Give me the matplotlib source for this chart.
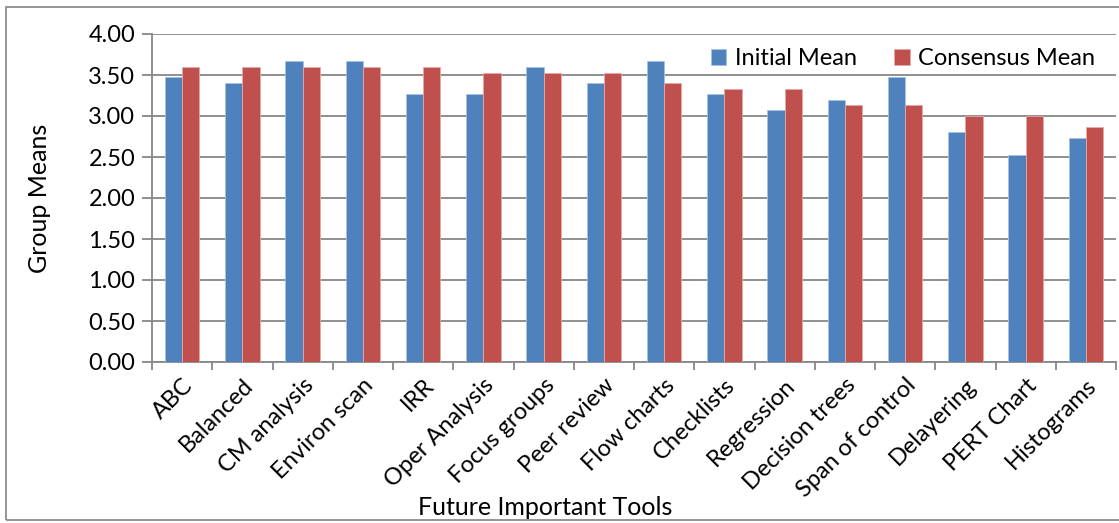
import matplotlib
matplotlib.use("Agg")
import matplotlib.pyplot as plt
from matplotlib.patches import Rectangle
import numpy as np

plt.rcParams['font.family'] = ['Lato', 'DejaVu Sans']

tools = ["ABC", "Balanced", "CM analysis", "Environ scan", "IRR", "Oper Analysis",
         "Focus groups", "Peer review", "Flow charts", "Checklists", "Regression",
         "Decision trees", "Span of control", "Delayering", "PERT Chart", "Histograms"]
initial_mean = [3.47, 3.40, 3.67, 3.67, 3.27, 3.27, 3.60, 3.40, 3.67, 3.27, 3.07,
                3.20, 3.47, 2.80, 2.53, 2.73]
consensus_mean = [3.60, 3.60, 3.60, 3.60, 3.60, 3.53, 3.53, 3.53, 3.40, 3.33, 3.33,
                  3.13, 3.13, 3.00, 3.00, 2.87]
y_ticks = [0.0, 0.5, 1.0, 1.5, 2.0, 2.5, 3.0, 3.5, 4.0]

W, H = 1119, 523
fig = plt.figure(figsize=(W / 100, H / 100), dpi=100)
ax = fig.add_axes([152 / W, 1 - 362 / H, (1116 - 152) / W, (362 - 34) / H])

blue = "#4F81BD"
red = "#C0504D"
grid_c = "#878787"

x = np.arange(len(tools))
bw = 1 / 3.5
ax.bar(x - bw / 2, initial_mean, bw, color=blue, label="Initial Mean",
       edgecolor="#A9C1E0", linewidth=0.6, zorder=3)
ax.bar(x + bw / 2, consensus_mean, bw, color=red, label="Consensus Mean",
       edgecolor="#E4A9A7", linewidth=0.6, zorder=3)

ax.set_xlim(-0.5, len(tools) - 0.5)
ax.set_ylim(0, 4)
ax.set_yticks(y_ticks)
ax.set_yticklabels([f"{v:.2f}" for v in y_ticks])
ax.yaxis.grid(True, color=grid_c, linewidth=1.3, zorder=0)
ax.set_axisbelow(True)

ax.set_xticks(np.arange(len(tools) + 1) - 0.5, minor=False)
ax.set_xticklabels([])
ax.set_xticks(x, minor=True)
ax.set_xticklabels(tools, minor=True, rotation=45, ha="right", va="top",
                   rotation_mode="anchor", fontsize=17)
ax.tick_params(axis="x", which="minor", length=0, pad=9)
ax.tick_params(axis="x", which="major", length=6, color=grid_c, width=1.3)
ax.tick_params(axis="y", length=7, color=grid_c, width=1.3, labelsize=17, pad=5)

for s in ["top", "right"]:
    ax.spines[s].set_visible(False)
for s in ["left", "bottom"]:
    ax.spines[s].set_color(grid_c)
    ax.spines[s].set_linewidth(1.3)

ax.set_ylabel("Group Means", fontsize=18, labelpad=27)
fig.text(545 / W, 4 / H, "Future Important Tools",
         ha="center", va="bottom", fontsize=18)

ax.legend(loc="upper right", bbox_to_anchor=(0.988, 0.985), frameon=False, ncol=2,
          fontsize=17, handlelength=0.65, handleheight=0.65, handletextpad=0.35,
          columnspacing=1.6, borderaxespad=0)

fig.patches.append(Rectangle((6 / W, 3 / H), (W + 10) / W, (H - 10) / H,
                             transform=fig.transFigure, fill=False,
                             edgecolor="#8C8C8C", linewidth=1.3))

fig.savefig("out.png", dpi=100)
